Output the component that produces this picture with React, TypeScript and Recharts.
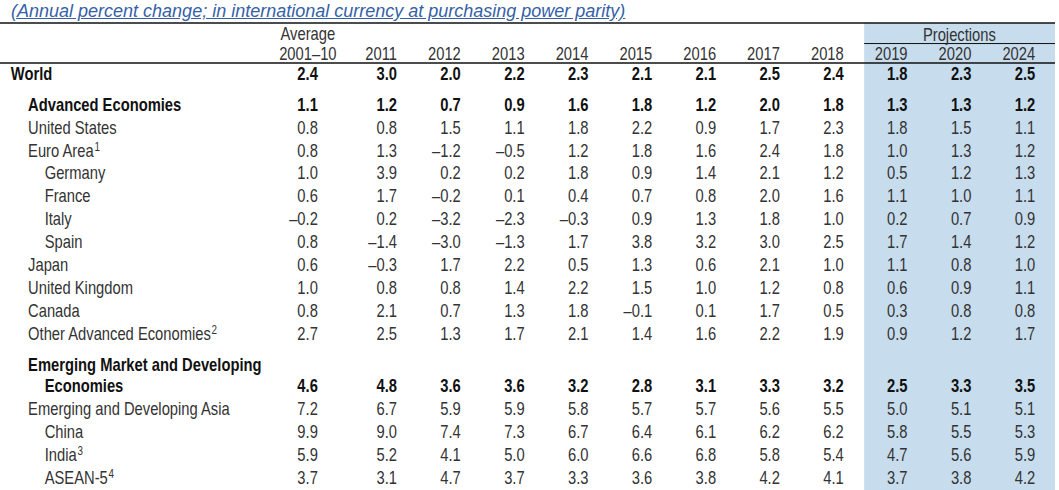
import { ScatterChart, Scatter, XAxis, YAxis, ReferenceArea, ReferenceLine } from "recharts";

// Column headers (x categories)
const columns = ["2001–10", "2011", "2012", "2013", "2014", "2015", "2016", "2017", "2018", "2019", "2020", "2024"];
const projectionStart = 9; // first projected column (2019)

// Row labels
const rowLabels = [
  "World",
  "Advanced Economies",
  "United States",
  "Euro Area",
  "Germany",
  "France",
  "Italy",
  "Spain",
  "Japan",
  "United Kingdom",
  "Canada",
  "Other Advanced Economies",
  "Emerging Market and Developing\nEconomies",
  "Emerging and Developing Asia",
  "China",
  "India",
  "ASEAN-5",
];
const rowNotes = ["", "", "", "1", "", "", "", "", "", "", "", "2", "", "", "", "3", "4"];
const rowLevels = [0, 1, 1, 1, 2, 2, 2, 2, 1, 1, 1, 1, 1, 1, 2, 2, 2];
const rowBold = [true, true, false, false, false, false, false, false, false, false, false, false, true, false, false, false, false];

// Values per row, one per column
const world = [2.4, 3.0, 2.0, 2.2, 2.3, 2.1, 2.1, 2.5, 2.4, 1.8, 2.3, 2.5];
const advanced = [1.1, 1.2, 0.7, 0.9, 1.6, 1.8, 1.2, 2.0, 1.8, 1.3, 1.3, 1.2];
const unitedStates = [0.8, 0.8, 1.5, 1.1, 1.8, 2.2, 0.9, 1.7, 2.3, 1.8, 1.5, 1.1];
const euroArea = [0.8, 1.3, -1.2, -0.5, 1.2, 1.8, 1.6, 2.4, 1.8, 1.0, 1.3, 1.2];
const germany = [1.0, 3.9, 0.2, 0.2, 1.8, 0.9, 1.4, 2.1, 1.2, 0.5, 1.2, 1.3];
const france = [0.6, 1.7, -0.2, 0.1, 0.4, 0.7, 0.8, 2.0, 1.6, 1.1, 1.0, 1.1];
const italy = [-0.2, 0.2, -3.2, -2.3, -0.3, 0.9, 1.3, 1.8, 1.0, 0.2, 0.7, 0.9];
const spain = [0.8, -1.4, -3.0, -1.3, 1.7, 3.8, 3.2, 3.0, 2.5, 1.7, 1.4, 1.2];
const japan = [0.6, -0.3, 1.7, 2.2, 0.5, 1.3, 0.6, 2.1, 1.0, 1.1, 0.8, 1.0];
const unitedKingdom = [1.0, 0.8, 0.8, 1.4, 2.2, 1.5, 1.0, 1.2, 0.8, 0.6, 0.9, 1.1];
const canada = [0.8, 2.1, 0.7, 1.3, 1.8, -0.1, 0.1, 1.7, 0.5, 0.3, 0.8, 0.8];
const otherAdvanced = [2.7, 2.5, 1.3, 1.7, 2.1, 1.4, 1.6, 2.2, 1.9, 0.9, 1.2, 1.7];
const emerging = [4.6, 4.8, 3.6, 3.6, 3.2, 2.8, 3.1, 3.3, 3.2, 2.5, 3.3, 3.5];
const emergingAsia = [7.2, 6.7, 5.9, 5.9, 5.8, 5.7, 5.7, 5.6, 5.5, 5.0, 5.1, 5.1];
const china = [9.9, 9.0, 7.4, 7.3, 6.7, 6.4, 6.1, 6.2, 6.2, 5.8, 5.5, 5.3];
const india = [5.9, 5.2, 4.1, 5.0, 6.0, 6.6, 6.8, 5.8, 5.4, 4.7, 5.6, 5.9];
const asean5 = [3.7, 3.1, 4.7, 3.7, 3.3, 3.6, 3.8, 4.2, 4.1, 3.7, 3.8, 4.2];

const rowValues = [
  world, advanced, unitedStates, euroArea, germany, france, italy, spain,
  japan, unitedKingdom, canada, otherAdvanced, emerging, emergingAsia, china, india, asean5,
];

// Liberation Sans squeezed horizontally stands in for a narrow face
const FONT = '"Liberation Sans", Arial, sans-serif';
const NX = 0.82;
const TEXT = "#333";
const BOLD = "#111";

// layout in "column units" / "line units"
const X_MIN = -5.22;
const X_MAX = 11.31;
const Y_MIN = -0.45;
const Y_MAX = 18.2;
const colX = (i: number) => (i === 0 ? -0.24 : i);
const indentX = [-5.05, -4.78, -4.52];

// vertical position of each row's value line
const rowY: number[] = [];
const labelLines: { x: number; y: number; text: string; note: string; bold: boolean }[] = [];
{
  let p = 0;
  rowLabels.forEach((label, i) => {
    const lines = label.split("\n");
    if (i > 0) p += 1;
    if (i > 0 && rowBold[i]) p += 0.35;
    const first = p;
    p += 0.95 * (lines.length - 1);
    rowY.push(p);
    lines.forEach((t, k) => {
      labelLines.push({
        x: indentX[Math.min(rowLevels[i] + (k > 0 ? 1 : 0), 2)],
        y: first + 0.95 * k,
        text: t,
        note: k === lines.length - 1 ? rowNotes[i] : "",
        bold: rowBold[i],
      });
    });
  });
}

const cells = rowValues.flatMap((vals, r) =>
  vals.map((v, c) => ({ x: colX(c), y: rowY[r], value: v, bold: rowBold[r] }))
);

const fmt = (v: number) => (v < 0 ? "\u2013" + Math.abs(v).toFixed(1) : v.toFixed(1));

const Narrow = ({ x, y, anchor = "start", bold = false, children }: any) => (
  <text
    transform={`translate(${x},${y}) scale(${NX},1)`}
    textAnchor={anchor}
    fontFamily={FONT}
    fontSize={18}
    fontWeight={bold ? 700 : 400}
    fill={bold ? BOLD : TEXT}
  >
    {children}
  </text>
);

const ValueCell = (props: any) => {
  const { cx, cy, payload } = props;
  return (
    <Narrow x={cx} y={cy + 6.5} anchor="end" bold={payload.bold}>
      {fmt(payload.value)}
    </Narrow>
  );
};

const RowLabel = (props: any) => {
  const { cx, cy, payload } = props;
  return (
    <Narrow x={cx} y={cy + 6.5} bold={payload.bold}>
      {payload.text}
      {payload.note && (
        <tspan fontSize={12} fontWeight={400} dx={1} dy={-6}>
          {payload.note}
        </tspan>
      )}
    </Narrow>
  );
};

const HeaderTick = (props: any) => {
  const { x, y, index } = props;
  const first = index === 0;
  return (
    <g>
      {first && (
        <Narrow x={x - 10} y={y - 23.5} anchor="middle">
          Average
        </Narrow>
      )}
      {index === projectionStart + 1 && (
        <Narrow x={x - 12} y={y - 22.5} anchor="middle">
          Projections
        </Narrow>
      )}
      <Narrow x={first ? x - 10 : x} y={y - 3.5} anchor={first ? "middle" : "end"}>
        {columns[index]}
      </Narrow>
    </g>
  );
};

export default function App() {
  const ruleY = -2.2;
  const projLineY = -1.3;
  const bandX = 8.32;

  return (
    <div style={{ position: "absolute", left: 0, top: 0, width: 1059, height: 490, background: "#fff" }}>
      <div
        style={{
          position: "absolute",
          left: 11,
          top: 1,
          fontFamily: FONT,
          fontStyle: "italic",
          fontSize: 18,
          lineHeight: "20px",
          color: "#3561a6",
          textDecoration: "underline",
          whiteSpace: "nowrap",
          zIndex: 2,
        }}
      >
        (Annual percent change; in international currency at purchasing power parity)
      </div>
      <ScatterChart width={1059} height={490} margin={{ top: 22, right: 4, bottom: 0, left: 0 }}>
        <XAxis
          type="number"
          dataKey="x"
          orientation="top"
          domain={[X_MIN, X_MAX]}
          allowDataOverflow
          ticks={columns.map((_, i) => colX(i))}
          interval={0}
          height={41}
          tickSize={0}
          tickMargin={0}
          tickLine={false}
          axisLine={{ stroke: "#111", strokeWidth: 1.5 }}
          tick={<HeaderTick />}
        />
        <YAxis type="number" dataKey="y" hide reversed domain={[Y_MIN, Y_MAX]} allowDataOverflow />
        <ReferenceArea
          x1={bandX}
          x2={X_MAX}
          y1={ruleY}
          y2={Y_MAX}
          ifOverflow="visible"
          fill="#c7dcec"
          fillOpacity={1}
          stroke="none"
        />
        <ReferenceLine y={ruleY} ifOverflow="visible" stroke="#111" strokeWidth={1.5} />
        <ReferenceLine
          segment={[
            { x: bandX, y: projLineY },
            { x: X_MAX, y: projLineY },
          ]}
          ifOverflow="visible"
          stroke="#111"
          strokeWidth={1}
        />
        <Scatter data={labelLines} shape={<RowLabel />} isAnimationActive={false} />
        <Scatter data={cells} shape={<ValueCell />} isAnimationActive={false} />
      </ScatterChart>
    </div>
  );
}
